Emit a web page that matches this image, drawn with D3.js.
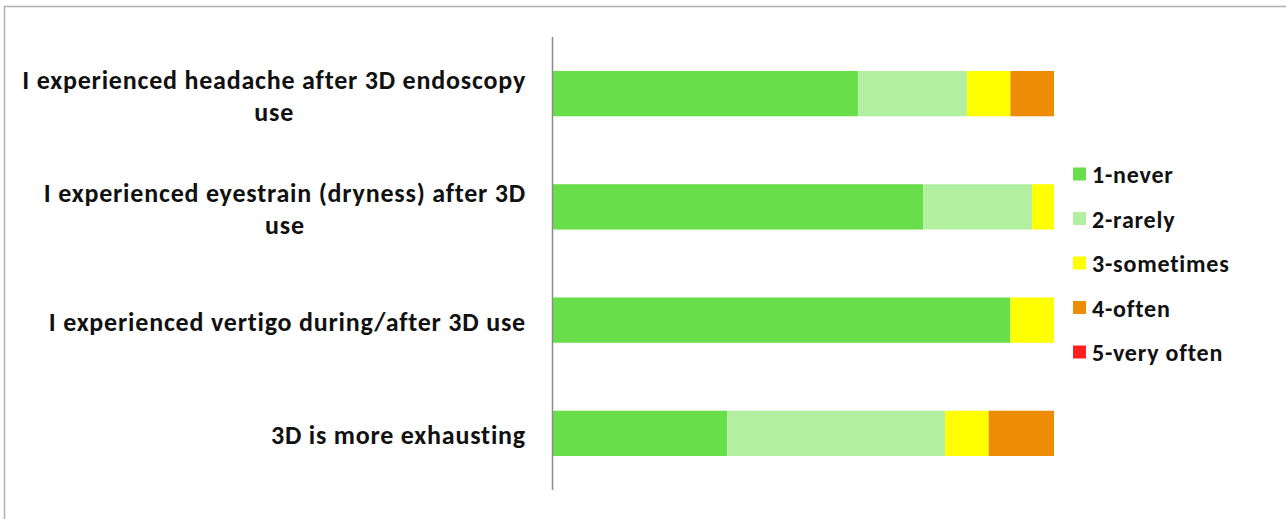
<!DOCTYPE html>
<html>
<head>
<meta charset="utf-8">
<script src="https://cdn.jsdelivr.net/npm/d3@7"></script>
<style>
  body { margin: 0; background: #fff; }
  svg { display: block; }
  text { font-family: Carlito, Calibri, Lato, sans-serif; font-weight: bold; fill: #111; }
</style>
</head>
<body>
<div id="chart"></div>
<script>
// survey answers, counts per statement (n = 23)
const categories = [
    "I experienced headache after 3D endoscopy use",
    "I experienced eyestrain (dryness) after 3D use",
    "I experienced vertigo during/after 3D use",
    "3D is more exhausting"
];
const seriesNames = ["1-never", "2-rarely", "3-sometimes", "4-often", "5-very often"];
const never = [14, 17, 21, 8];
const rarely = [5, 5, 0, 10];
const sometimes = [2, 1, 2, 2];
const often = [2, 0, 0, 3];
const veryOften = [0, 0, 0, 0];
const colors = ["#69de4b", "#b2efa0", "#ffff00", "#ef8c06", "#ff2020"];

function draw_chart() {
    const config = {
        width: 1286,
        height: 519,
        plot: { left: 553, right: 1054, top: 37, bottom: 490 },
        labelX: 526,
        labelWidth: 515,
        labelSize: 26,
        labelSpacing: 0.8,
        lineHeight: 32,
        legend: { x: 1073, y: 175, step: 44.5, box: 13, size: 24, spacing: 0.8 },
    };
    const svg = d3.select("#chart")
        .append("svg")
        .attr("width", config.width)
        .attr("height", config.height);

    // outer frame
    svg.append("rect")
        .attr("x", 4.5).attr("y", 6.5)
        .attr("width", config.width + 10).attr("height", config.height + 10)
        .attr("fill", "none")
        .attr("stroke", "#b0b0b0")
        .attr("stroke-width", 1.5);

    const table = categories.map((c, i) => ({
        cat: c,
        "1-never": never[i],
        "2-rarely": rarely[i],
        "3-sometimes": sometimes[i],
        "4-often": often[i],
        "5-very often": veryOften[i]
    }));
    const stacked = d3.stack()
        .keys(seriesNames)
        .offset(d3.stackOffsetExpand)(table);

    const scale_x = d3.scaleLinear()
        .domain([0, 1])
        .range([config.plot.left, config.plot.right]);
    const scale_y = d3.scaleBand()
        .domain(categories)
        .range([config.plot.top, config.plot.bottom])
        .paddingInner(0.6)
        .paddingOuter(0.3);

    svg.append("g")
        .selectAll("g")
        .data(stacked)
        .join("g")
        .attr("fill", (d, i) => colors[i])
        .selectAll("rect")
        .data(d => d)
        .join("rect")
        .attr("x", d => scale_x(d[0]))
        .attr("y", d => scale_y(d.data.cat))
        .attr("width", d => scale_x(d[1]) - scale_x(d[0]))
        .attr("height", scale_y.bandwidth());

    // vertical category axis, no ticks
    svg.append("line")
        .attr("x1", config.plot.left - 0.5).attr("x2", config.plot.left - 0.5)
        .attr("y1", config.plot.top).attr("y2", config.plot.bottom)
        .attr("stroke", "#8c8c8c")
        .attr("stroke-width", 1.5);

    // category labels, wrapped to the label column, lines centred on each other
    const labels = svg.append("g")
        .selectAll("text")
        .data(categories)
        .join("text")
        .attr("text-anchor", "middle")
        .attr("font-size", config.labelSize)
        .attr("letter-spacing", config.labelSpacing);
    labels.each(function (d) {
        const t = d3.select(this);
        const words = d.split(" ");
        let lines = [];
        let cur = [];
        let maxW = 0;
        const probe = t.append("tspan");
        words.forEach(w => {
            probe.text(cur.concat(w).join(" "));
            if (cur.length && probe.node().getComputedTextLength() > config.labelWidth) {
                probe.text(cur.join(" "));
                maxW = Math.max(maxW, probe.node().getComputedTextLength());
                lines.push(cur.join(" "));
                cur = [w];
            } else {
                cur.push(w);
            }
        });
        probe.text(cur.join(" "));
        maxW = Math.max(maxW, probe.node().getComputedTextLength());
        lines.push(cur.join(" "));
        probe.remove();
        const cx = config.labelX - maxW / 2;
        const cy = scale_y(d) + scale_y.bandwidth() / 2;
        const y0 = cy - (lines.length - 1) * config.lineHeight / 2 + 11;
        lines.forEach((ln, k) => {
            t.append("tspan")
                .attr("x", cx)
                .attr("y", y0 + k * config.lineHeight)
                .text(ln);
        });
    });

    // legend
    const legend = svg.append("g")
        .selectAll("g")
        .data(seriesNames)
        .join("g")
        .attr("transform", (d, i) => `translate(${config.legend.x}, ${config.legend.y + i * config.legend.step})`);
    legend.append("rect")
        .attr("x", 0).attr("y", -config.legend.box / 2 - 1)
        .attr("width", config.legend.box).attr("height", config.legend.box)
        .attr("fill", (d, i) => colors[i]);
    legend.append("text")
        .attr("x", 19).attr("y", 8)
        .attr("font-size", config.legend.size)
        .attr("letter-spacing", config.legend.spacing)
        .text(d => d);
}
draw_chart();
</script>
</body>
</html>
